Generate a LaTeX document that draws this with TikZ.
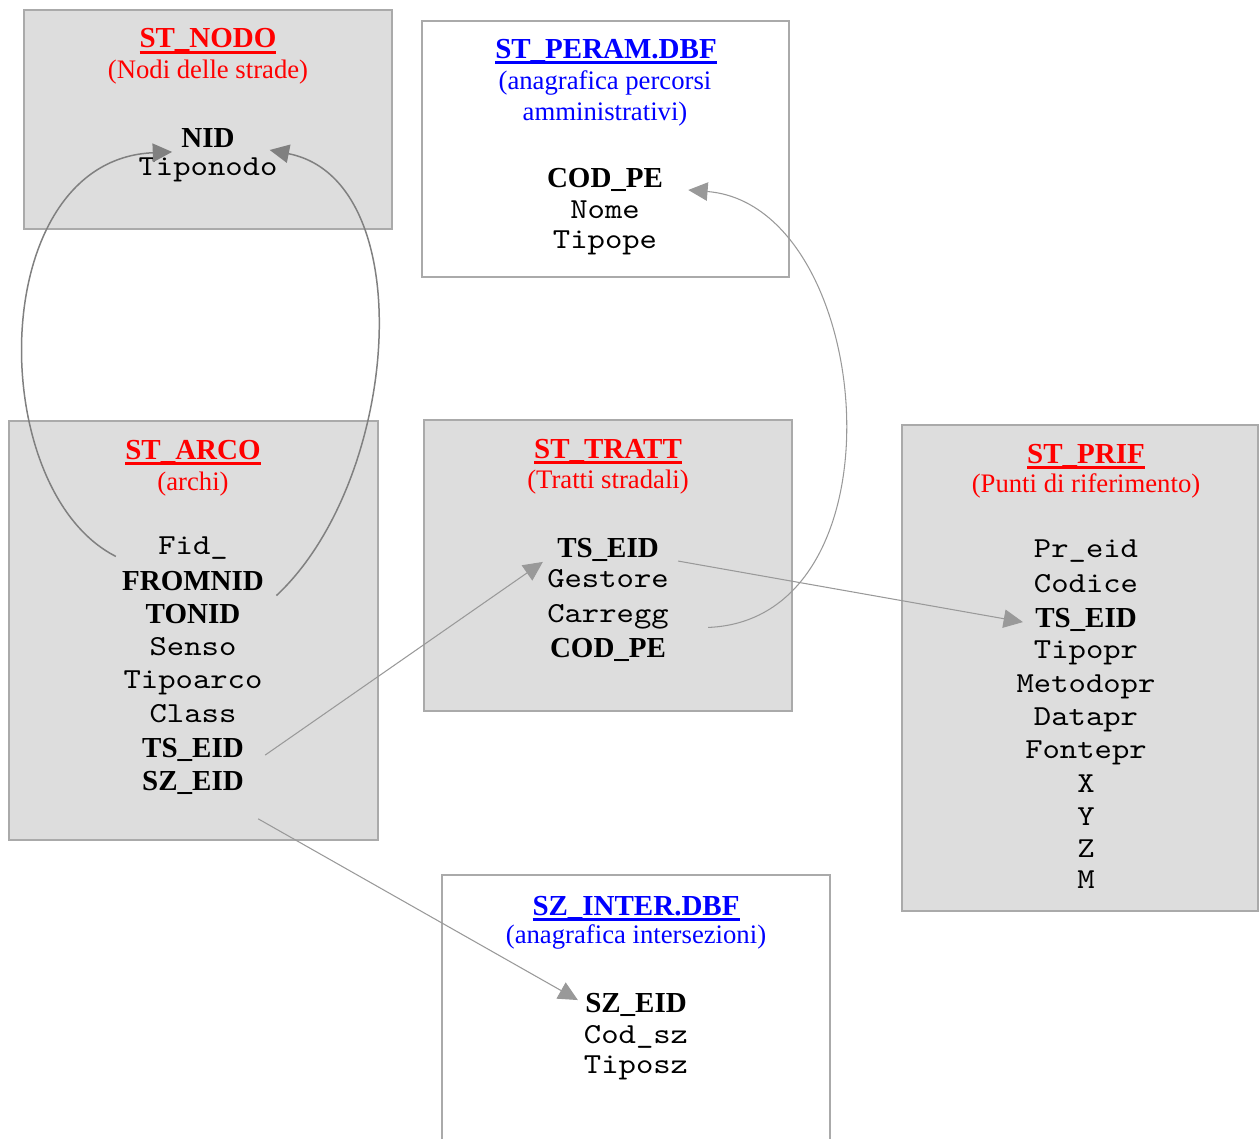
\documentclass[tikz,border=0pt]{standalone}
\usepackage{fontspec}
\setmainfont{Liberation Serif}
\setmonofont{lmmono10-regular.otf}[FakeStretch=1.14]
\usetikzlibrary{arrows.meta}
\definecolor{boxgray}{HTML}{DDDDDD}
\definecolor{edgegray}{HTML}{AAAAAA}
\definecolor{linkgray}{HTML}{999999}
\definecolor{loopgray}{HTML}{808080}
\newcommand{\ultitle}[1]{\setbox0=\hbox{#1}\rlap{\rule[-3.4pt]{\wd0}{1.8pt}}\box0}

\begin{document}
\begin{tikzpicture}[x=0.02cm, y=-0.02cm,
	tbox/.style={draw=edgegray, fill=boxgray, line width=0.7pt},
	wbox/.style={draw=edgegray, fill=white, line width=0.7pt},
	txt/.style={anchor=base, inner sep=0pt, font=\fontsize{15.2}{18}\selectfont},
	ttl/.style={txt, font=\fontsize{16.5}{19}\selectfont\bfseries},
	fld/.style={txt, font=\fontsize{16.5}{19}\selectfont\ttfamily},
	keyfld/.style={txt, font=\fontsize{16.5}{19}\selectfont\bfseries},
	fklink/.style={draw=linkgray, line width=0.6pt, -{Triangle[length=11pt, width=10.5pt]}},
	fkloop/.style={draw=loopgray, line width=0.85pt, -{Triangle[length=11pt, width=10.5pt]}}]
		\clip (0,0) rectangle (1259,1139);
		
		% tabelle
		\draw [tbox] (24,10) rectangle (392,229);
		\draw [wbox] (422,21) rectangle (789,277);
		\draw [tbox] (9,421) rectangle (378,840);
		\draw [tbox] (424,420) rectangle (792,711);
		\draw [tbox] (902,425) rectangle (1258,911);
		\draw [wbox] (442,875) rectangle (830,1160);
		
		% ST_NODO
		\node [ttl, red] (nodo-t) at (208,48) {\ultitle{ST\_NODO}};
		\node [txt, red] (nodo-s) at (208,78) {(Nodi delle strade)};
		\node [keyfld] (nodo-nid) at (208,147) {NID};
		\node [fld] (nodo-tipo) at (208,175) {Tiponodo};
		
		% ST_PERAM.DBF
		\node [ttl, blue] (peram-t) at (606,58) {\ultitle{ST\_PERAM.DBF}};
		\node [txt, blue] (peram-s1) at (605,90) {(anagrafica percorsi};
		\node [txt, blue] (peram-s2) at (605,120) {amministrativi)};
		\node [keyfld] (peram-cod) at (605,187) {COD\_PE};
		\node [fld] (peram-nome) at (605,218) {Nome};
		\node [fld] (peram-tipo) at (605,248) {Tipope};
		
		% ST_ARCO
		\node [ttl, red] (arco-t) at (193,459) {\ultitle{ST\_ARCO}};
		\node [txt, red] (arco-s) at (193,490) {(archi)};
		\node [fld] (arco-fid) at (193,554) {Fid\_};
		\node [keyfld] (arco-from) at (193,590) {FROMNID};
		\node [keyfld] (arco-to) at (193,623) {TONID};
		\node [fld] (arco-senso) at (193,655) {Senso};
		\node [fld] (arco-tipo) at (193,688) {Tipoarco};
		\node [fld] (arco-class) at (193,722) {Class};
		\node [keyfld] (arco-ts) at (193,757) {TS\_EID};
		\node [keyfld] (arco-sz) at (193,790) {SZ\_EID};
		
		% ST_TRATT
		\node [ttl, red] (tratt-t) at (608,458) {\ultitle{ST\_TRATT}};
		\node [txt, red] (tratt-s) at (608,488) {(Tratti stradali)};
		\node [keyfld] (tratt-ts) at (608,557) {TS\_EID};
		\node [fld] (tratt-gest) at (608,587) {Gestore};
		\node [fld] (tratt-carr) at (608,622) {Carregg};
		\node [keyfld] (tratt-cod) at (608,657) {COD\_PE};
		
		% ST_PRIF
		\node [ttl, red] (prif-t) at (1086,463) {\ultitle{ST\_PRIF}};
		\node [txt, red] (prif-s) at (1086,492) {(Punti di riferimento)};
		\node [fld] (prif-eid) at (1086,557) {Pr\_eid};
		\node [fld] (prif-cod) at (1086,592) {Codice};
		\node [keyfld] (prif-ts) at (1086,627) {TS\_EID};
		\foreach \f/\y [count=\i] in {Tipopr/658, Metodopr/692, Datapr/725, Fontepr/758, X/792, Y/825, Z/857, M/888}{
			\node [fld] (prif-\i) at (1086,\y) {\f};
		}
		
		% SZ_INTER.DBF
		\node [ttl, blue] (inter-t) at (636,915) {\ultitle{SZ\_INTER.DBF}};
		\node [txt, blue] (inter-s) at (636,943) {(anagrafica intersezioni)};
		\node [keyfld] (inter-sz) at (636,1012) {SZ\_EID};
		\node [fld] (inter-cod) at (636,1043) {Cod\_sz};
		\node [fld] (inter-tipo) at (636,1073) {Tiposz};
		
		% relazioni
		\draw [fkloop] ([xshift=-3.4pt,yshift=8pt]arco-from.north west) .. controls +(-132,-67) and +(-187,8) .. ([xshift=-5.1pt,yshift=-2.8pt]nodo-nid.base west);
		\draw [fkloop] ([xshift=20.4pt,yshift=4.5pt]arco-to.north east) .. controls +(124,-116) and +(152,30) .. ([xshift=19.8pt,yshift=-1.7pt]nodo-nid.base east);
		\draw [fklink] ([xshift=12pt,yshift=1.1pt]arco-ts.base east) -- ([xshift=-8pt,yshift=-2.8pt]tratt-ts.base west);
		\draw [fklink] ([xshift=10.8pt,yshift=-2.3pt]tratt-ts.base east) -- ([xshift=-6.8pt,yshift=2.8pt]prif-ts.base west);
		\draw [fklink] ([xshift=23.8pt,yshift=5.7pt]tratt-cod.north east) .. controls +(202,-8) and +(187,15) .. ([xshift=14.2pt,yshift=-1.7pt]peram-cod.base east);
		\draw [fklink] ([xshift=8pt,yshift=-16.4pt]arco-sz.base east) -- ([xshift=-4pt,yshift=6.8pt]inter-sz.base west);
\end{tikzpicture}
\end{document}
